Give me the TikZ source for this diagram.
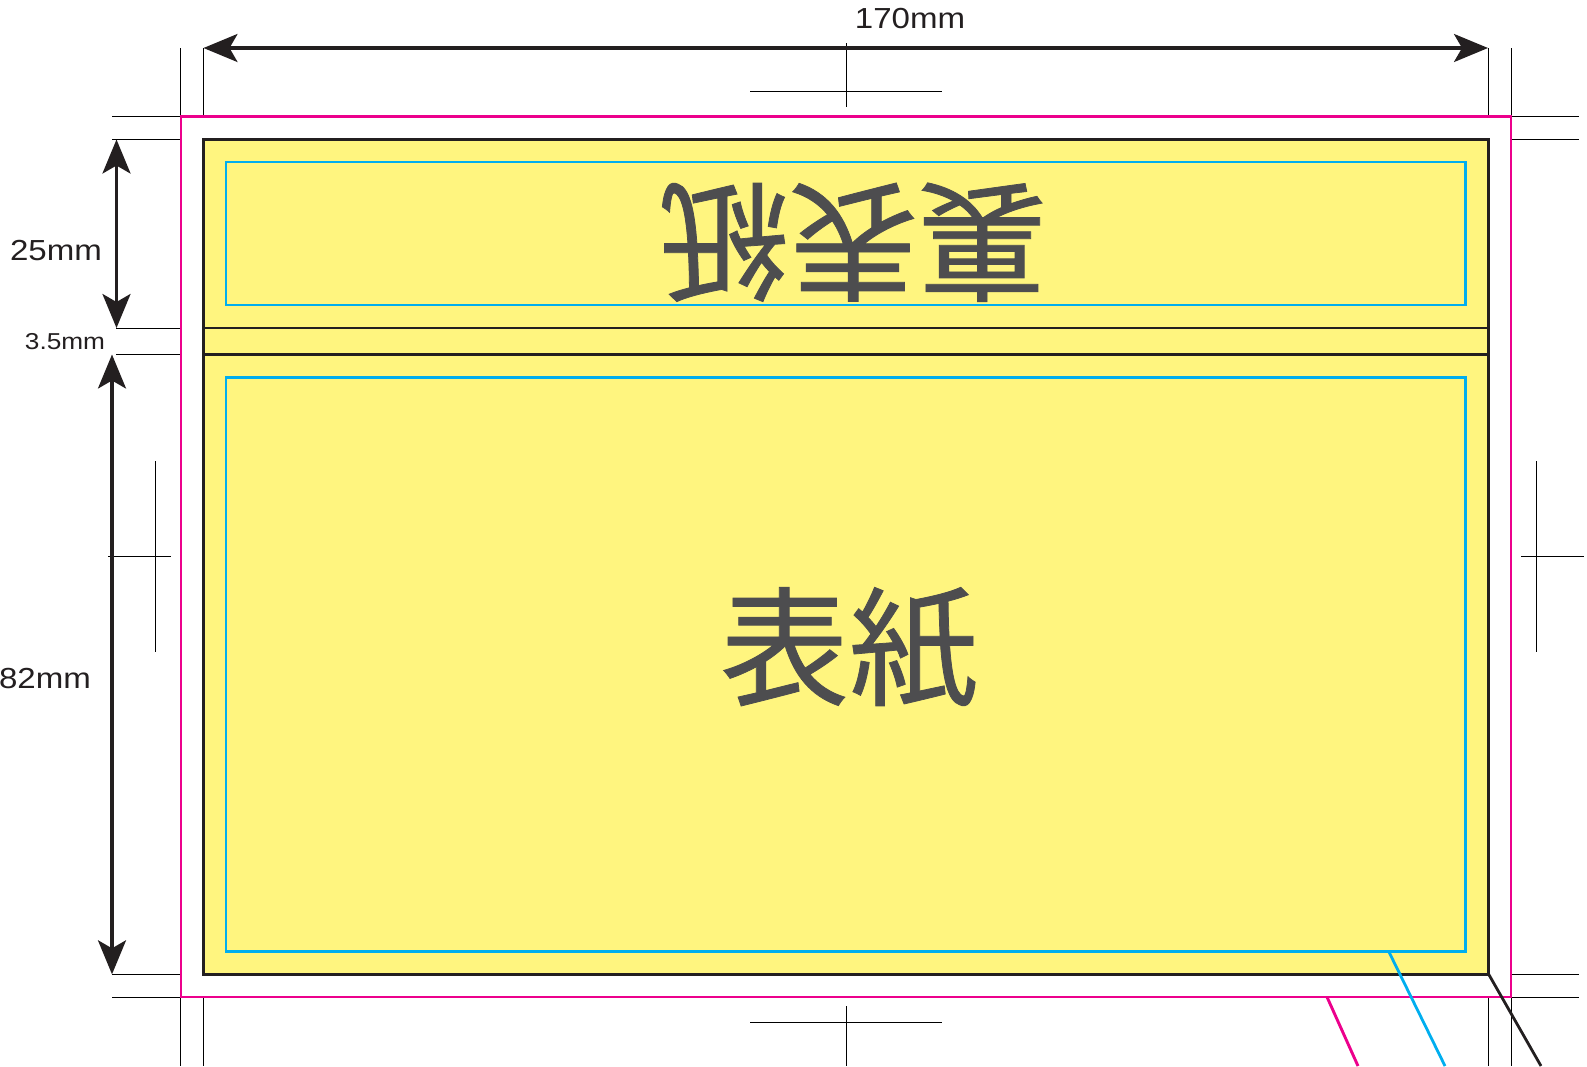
\documentclass[tikz,border=0pt]{standalone}
\usepackage{fontspec}
\setmainfont{Liberation Sans}
\newfontfamily\cjk[RawFeature={embolden=0.6}]{Noto Sans CJK JP}
\usetikzlibrary{arrows.meta}
\definecolor{pap}{HTML}{FFF57F}
\definecolor{mag}{HTML}{EC008C}
\definecolor{cya}{HTML}{00AEEF}
\definecolor{ink}{HTML}{231F20}
\definecolor{gly}{HTML}{4D4D4F}
\tikzset{
 trim/.style={line width=2.8pt,draw=mag},
 sheet/.style={line width=3.4pt,draw=ink,fill=pap},
 fold/.style={line width=2.9pt,draw=ink},
 safe/.style={line width=2.8pt,draw=cya},
 crop/.style={line width=1pt,draw=black},
 dim/.style={line width=3.2pt,draw=ink,{Stealth[length=34pt,width=28pt,inset=8pt]}-{Stealth[length=34pt,width=28pt,inset=8pt]}},
 lab/.style={inner sep=0pt,text=ink,font=\fontsize{29}{29}\selectfont,xscale=1.14,transform shape},
 labs/.style={inner sep=0pt,text=ink,font=\fontsize{23}{23}\selectfont,xscale=1.14,transform shape},
 big/.style={inner sep=0pt,text=gly,font=\cjk\fontsize{129}{129}\selectfont},
}
\begin{document}
\begin{tikzpicture}[x=1pt,y=-1pt]
\useasboundingbox (0,0) rectangle (1587,1066);
% crop marks
\foreach \x in {180.5,203.3,1488.7,1511}{
  \draw[crop] (\x,48) -- (\x,116.5);
  \draw[crop] (\x,997) -- (\x,1066);
}
\foreach \y in {116.5,139,974.3,997}{
  \draw[crop] (112,\y) -- (180.5,\y);
  \draw[crop] (1511,\y) -- (1579,\y);
}
\draw[crop] (116,328) -- (180.5,328);
\draw[crop] (116,354.5) -- (180.5,354.5);
\draw[crop] (846,43) -- (846,107);
\draw[crop] (750,91) -- (942,91);
\draw[crop] (846,1006) -- (846,1066);
\draw[crop] (750,1022.5) -- (942,1022.5);
\draw[crop] (155,461) -- (155,652);
\draw[crop] (108,556.5) -- (171,556.5);
\draw[crop] (1536.5,461) -- (1536.5,652);
\draw[crop] (1521,556.5) -- (1584,556.5);
% bleed, sheet
\draw[trim] (181,116.5) rectangle (1511,997);
\draw[sheet] (203.3,139.5) rectangle (1488.7,974.3);
\draw[fold] (203.3,328) -- (1488.7,328);
\draw[fold] (203.3,354.5) -- (1488.7,354.5);
\draw[safe] (226,162) rectangle (1465.7,305);
\draw[safe] (226,377.3) rectangle (1465.7,951.7);
% leaders
\coordinate (lc1) at (1389,952);
\coordinate (lc2) at (1445,1066);
\coordinate (lm1) at (1327,997);
\coordinate (lm2) at (1358,1066);
\coordinate (lk1) at (1488.7,974.3);
\coordinate (lk2) at (1541,1066);
\draw[line width=2.8pt,draw=cya] (lc1) -- (lc2);
\draw[line width=2.9pt,draw=mag] (lm1) -- (lm2);
\draw[line width=2.8pt,draw=ink] (lk1) -- (lk2);
% dimensions
\coordinate (wa) at (203.5,48);
\coordinate (wb) at (1488,48);
\coordinate (ha) at (116.5,139.5);
\coordinate (hb) at (116.5,328);
\coordinate (ka) at (112,354.5);
\coordinate (kb) at (112,974.3);
\draw[dim] (wa) -- (wb);
\draw[dim] (ha) -- (hb);
\draw[dim] (ka) -- (kb);
% labels
\node[lab] (t170) at (910,19) {170mm};
\node[lab] (t25) at (56,251) {25mm};
\node[labs] (t35) at (65,342) {3.5mm};
\node[lab] (t82) at (45,679) {82mm};
\node[big] (front) at (849,648) {表紙};
\node[big,rotate=180] (back) at (853,241) {裏表紙};
\end{tikzpicture}
\end{document}
